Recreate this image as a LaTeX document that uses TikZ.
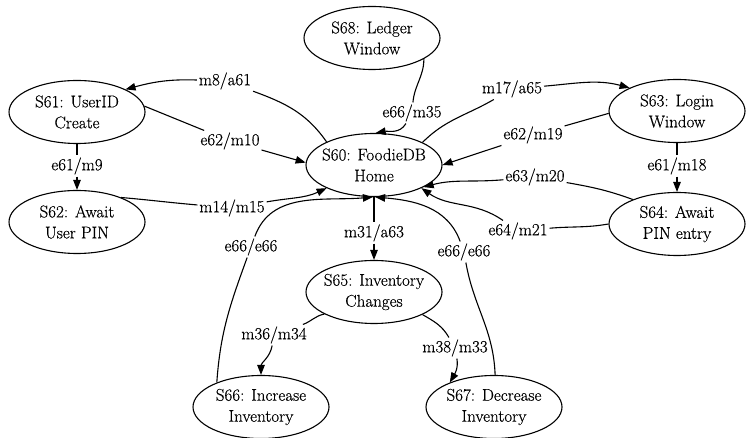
\documentclass[tikz,border=0pt]{standalone}
\usepackage{fontspec}
\setmainfont{Latin Modern Roman}[FakeBold=0.4]
\usetikzlibrary{shapes.geometric,arrows.meta}
\begin{document}
\begin{tikzpicture}[x=1pt, y=1pt, line width=1.1pt, line join=round,
    font=\fontsize{17}{21}\selectfont, >={Triangle[length=10pt,width=7.5pt]},
    state/.style={ellipse, draw, minimum width=136pt, minimum height=63pt,
      inner xsep=-14pt, inner ysep=0pt, align=center},
    lbl/.style={inner sep=1.5pt}]
	\useasboundingbox (0,0) rectangle (746,438);
	% states
	\foreach \n/\p/\t in {
		s60/{374,273}/{S60: FoodieDB\\Home},
		s68/{372,400}/{S68: Ledger\\Window},
		s61/{77,326}/{S61: UserID\\Create},
		s62/{77,216}/{S62: Await\\User PIN},
		s63/{677,327}/{S63: Login\\Window},
		s64/{677,214}/{S64: Await\\PIN entry},
		s65/{374,146}/{S65: Inventory\\Changes},
		s66/{261,31}/{S66: Increase\\Inventory},
		s67/{494,31}/{S67: Decrease\\Inventory}}
		\node[state] (\n) at (\p) {\t};
	% transition labels
	\foreach \n/\p/\t in {
		m8a61/{225,357}/{m8/a61},
		e62m10/{230,297}/{e62/m10},
		e61m9/{77,272}/{e61/m9},
		m14m15/{232,230}/{m14/m15},
		e66m35/{412,325}/{e66/m35},
		m17a65/{512,349}/{m17/a65},
		e62m19/{533,303}/{e62/m19},
		e61m18/{677,272}/{e61/m18},
		e63m20/{535,261}/{e63/m20},
		e64m21/{518,207}/{e64/m21},
		m31a63/{374,205}/{m31/a63},
		m36m34/{274,103}/{m36/m34},
		m38m33/{455,90}/{m38/m33},
		e66a/{251,191}/{e66/e66},
		e66b/{464,186}/{e66/e66}}
		\node[lbl] (\n) at (\p) {\t};
	% transitions
	\draw[->] (s60.154) to[out=125,in=-20] (m8a61) to[out=178,in=15] (s61.25);
	\draw[->] (s61.5) -- (e62m10) -- (s60.178);
	\draw[->] (s61) -- (e61m9) -- (s62);
	\draw[->] (s62.29) to[out=-5,in=175] (m14m15) to[out=10,in=-155] (s60.206);
	\draw[->] (s68.-22) to[out=-90,in=85] (e66m35) to[out=-120,in=10] (s60.87);
	\draw[->] (s60.25) to[out=45,in=-150] (m17a65) to[out=5,in=165] (s63.154);
	\draw[->] (s63.182) -- (e62m19) -- (s60.east);
	\draw[->] (s63) -- (e61m18) -- (s64);
	\draw[->] (s64.151) to[out=160,in=-10] (e63m20) to[out=-175,in=15] (s60.-24);
	\draw[->] (s64.west) to[out=190,in=5] (e64m21) to[out=145,in=-35] (s60.-26);
	\draw[->] (s60) -- (m31a63) -- (s65);
	\draw[->] (s65.204) to[out=190,in=20] (m36m34) to[out=-100,in=90] (s66.north);
	\draw[->] (s65.-25) to[out=-30,in=120] (m38m33) to[out=-80,in=60] (s67.151);
	\draw[->] (s66.151) to[out=86,in=-110] (e66a) to[out=70,in=185] (s60.-92);
	\draw[->] (s67.88) to[out=92,in=-80] (e66b) to[out=110,in=-5] (s60.-88);
\end{tikzpicture}
\end{document}
